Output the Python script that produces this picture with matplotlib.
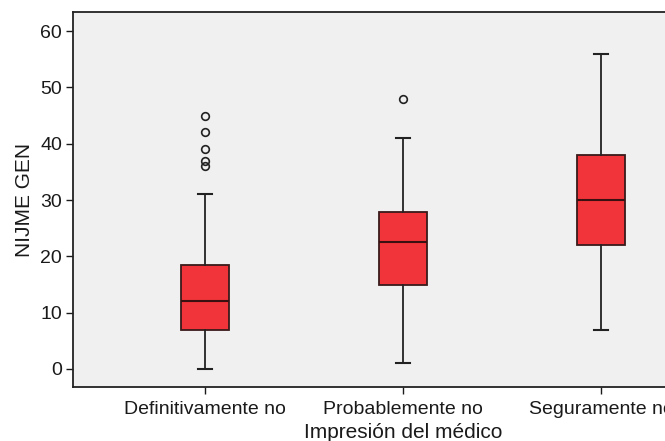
import matplotlib
matplotlib.use("Agg")
import matplotlib.pyplot as plt

categories = ["Definitivamente no", "Probablemente no", "Seguramente no"]
whislo = [0, 1, 7]
q1 = [7, 15, 22]
med = [12, 22.5, 30]
q3 = [18.5, 27.8, 38]
whishi = [31, 41, 56]
fliers = [[45, 42, 39, 37, 36], [48], []]

plt.rcParams['font.family'] = ['Liberation Sans', 'DejaVu Sans']

fig = plt.figure(figsize=(6.65, 4.41), dpi=100)
# axes extends past right edge as in the reference
ax = fig.add_axes([73/665, 1 - 387/441, (733 - 73)/665, (387 - 12)/441])
ax.set_facecolor('#f0f0f0')

stats = []
for i, c in enumerate(categories):
    stats.append(dict(label=c, whislo=whislo[i], q1=q1[i], med=med[i],
                      q3=q3[i], whishi=whishi[i], fliers=fliers[i]))

ax.bxp(stats, positions=[1, 2, 3], widths=0.247, capwidths=0.067,
       patch_artist=True, showfliers=True,
       boxprops=dict(facecolor='#f0343a', edgecolor='#3a1a1a', linewidth=1.3),
       medianprops=dict(color='#3a1010', linewidth=1.5),
       whiskerprops=dict(color='#222222', linewidth=1.3),
       capprops=dict(color='#222222', linewidth=1.5),
       flierprops=dict(marker='o', markerfacecolor='none', markeredgecolor='#222222',
                       markersize=5.5, markeredgewidth=1.2))

ax.set_xlim(1 - 132/198, 3 + 132/198)
ax.set_ylim(-3.2, 63.4)
ax.set_yticks([0, 10, 20, 30, 40, 50, 60])
ax.set_xticks([1, 2, 3])
ax.set_xticklabels(categories)
ax.tick_params(axis='both', direction='out', length=5, width=1, labelsize=14, colors='#1a1a1a')
ax.tick_params(axis='x', pad=5)
ax.tick_params(axis='y', pad=3)
for s in ax.spines.values():
    s.set_linewidth(1.3)
    s.set_color('#222222')
ax.set_ylabel("NIJME GEN", fontsize=15, color='#1a1a1a', labelpad=4)
ax.set_xlabel("Impresión del médico", fontsize=15, color='#1a1a1a', labelpad=4)

fig.savefig("out.png", dpi=100)
